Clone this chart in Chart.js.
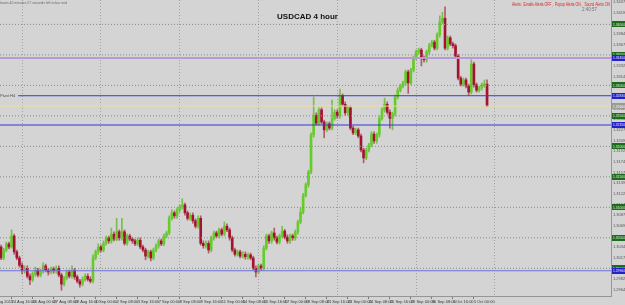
<!DOCTYPE html>
<html><head><meta charset="utf-8">
<script src="https://cdn.jsdelivr.net/npm/chart.js@4.4.0/dist/chart.umd.min.js"></script>
<style>html,body{margin:0;padding:0;background:#d4d4d4;overflow:hidden}canvas{display:block}</style>
</head><body>
<canvas id="c" width="625" height="305" style="width:625px;height:305px"></canvas>
<script>
const titleText = 'USDCAD 4 hour';
const alertText = 'Alerts:  Emails Alerts OFF ,  Popup Alerts ON ,  Sound Alerts ON';
const timerText = '2:40:57';
const barEndText = 'hours 40 minutes 57 seconds left to bar end';
const lineNote = 'Pivot H4';

const opens = [
1.3035,1.3017,1.3030,1.3040,1.3035,1.3053,1.3027,1.3017,1.3005,1.2996,
1.3000,1.2987,1.2981,1.2991,1.2997,1.2989,1.2996,1.3004,1.2997,1.2994,
1.2999,1.2996,1.3000,1.2989,1.2974,1.2984,1.2994,1.2987,1.2997,1.2986,
1.2979,1.2974,1.2982,1.2987,1.2982,1.2979,1.3017,1.3027,1.3035,1.3030,
1.3041,1.3050,1.3045,1.3056,1.3048,1.3060,1.3050,1.3060,1.3041,1.3053,
1.3048,1.3045,1.3040,1.3046,1.3035,1.3030,1.3020,1.3027,1.3017,1.3030,
1.3037,1.3045,1.3040,1.3053,1.3058,1.3082,1.3091,1.3086,1.3096,1.3101,
1.3104,1.3091,1.3082,1.3087,1.3078,1.3069,1.3082,1.3041,1.3037,1.3041,
1.3030,1.3050,1.3058,1.3053,1.3063,1.3056,1.3069,1.3063,1.3050,1.3030,
1.3023,1.3027,1.3020,1.3023,1.3019,1.3022,1.3017,1.3000,1.2994,1.3004,
1.3000,1.3033,1.3053,1.3045,1.3058,1.3050,1.3043,1.3053,1.3061,1.3051,
1.3045,1.3053,1.3050,1.3060,1.3076,1.3092,1.3120,1.3137,1.3158,1.3219,
1.3251,1.3238,1.3260,1.3240,1.3227,1.3237,1.3230,1.3246,1.3256,1.3250,
1.3283,1.3269,1.3255,1.3263,1.3230,1.3222,1.3227,1.3217,1.3194,1.3181,
1.3194,1.3202,1.3220,1.3209,1.3219,1.3246,1.3260,1.3269,1.3256,1.3246,
1.3253,1.3281,1.3292,1.3299,1.3304,1.3322,1.3304,1.3325,1.3345,1.3355,
1.3358,1.3345,1.3342,1.3355,1.3366,1.3371,1.3361,1.3383,1.3404,1.3410,
1.3361,1.3378,1.3368,1.3365,1.3348,1.3312,1.3302,1.3309,1.3299,1.3289,
1.3335,1.3301,1.3292,1.3296,1.3301,1.3302];

const highs = [
1.3038,1.3033,1.3043,1.3043,1.3063,1.3056,1.3030,1.3020,1.3009,1.3004,
1.3004,1.2991,1.2994,1.3002,1.3000,1.2999,1.3009,1.3007,1.3000,1.3002,
1.3002,1.3004,1.3004,1.2992,1.2987,1.2997,1.2997,1.3004,1.3000,1.2989,
1.2982,1.2986,1.2991,1.2991,1.2986,1.3022,1.3030,1.3040,1.3038,1.3045,
1.3053,1.3053,1.3066,1.3060,1.3082,1.3063,1.3082,1.3063,1.3056,1.3056,
1.3051,1.3048,1.3050,1.3050,1.3038,1.3033,1.3030,1.3030,1.3033,1.3040,
1.3048,1.3048,1.3056,1.3061,1.3086,1.3096,1.3094,1.3099,1.3104,1.3114,
1.3107,1.3094,1.3091,1.3091,1.3081,1.3086,1.3086,1.3045,1.3045,1.3045,
1.3053,1.3061,1.3061,1.3066,1.3066,1.3076,1.3073,1.3066,1.3053,1.3033,
1.3030,1.3030,1.3027,1.3027,1.3025,1.3025,1.3020,1.3004,1.3007,1.3007,
1.3037,1.3056,1.3056,1.3061,1.3066,1.3053,1.3056,1.3069,1.3064,1.3055,
1.3056,1.3056,1.3063,1.3079,1.3099,1.3123,1.3140,1.3161,1.3222,1.3281,
1.3255,1.3263,1.3263,1.3243,1.3240,1.3240,1.3276,1.3260,1.3260,1.3294,
1.3286,1.3273,1.3266,1.3266,1.3233,1.3230,1.3230,1.3220,1.3197,1.3197,
1.3205,1.3224,1.3224,1.3222,1.3250,1.3263,1.3279,1.3273,1.3260,1.3256,
1.3284,1.3296,1.3302,1.3307,1.3325,1.3325,1.3328,1.3348,1.3358,1.3361,
1.3361,1.3348,1.3358,1.3369,1.3374,1.3374,1.3386,1.3414,1.3420,1.3429,
1.3381,1.3381,1.3371,1.3368,1.3351,1.3315,1.3312,1.3312,1.3302,1.3342,
1.3338,1.3304,1.3299,1.3304,1.3309,1.3309];

const lows = [
1.3014,1.3014,1.3027,1.3032,1.3033,1.3023,1.3014,1.3002,1.2991,1.2992,
1.2984,1.2973,1.2978,1.2987,1.2986,1.2986,1.2992,1.2994,1.2989,1.2991,
1.2992,1.2992,1.2986,1.2964,1.2971,1.2981,1.2984,1.2984,1.2982,1.2976,
1.2969,1.2971,1.2979,1.2979,1.2976,1.2976,1.3014,1.3023,1.3027,1.3027,
1.3038,1.3041,1.3041,1.3045,1.3045,1.3046,1.3046,1.3038,1.3038,1.3045,
1.3041,1.3037,1.3037,1.3032,1.3027,1.3014,1.3017,1.3012,1.3014,1.3027,
1.3033,1.3037,1.3037,1.3050,1.3055,1.3079,1.3082,1.3082,1.3092,1.3097,
1.3087,1.3079,1.3079,1.3074,1.3066,1.3066,1.3038,1.3033,1.3033,1.3025,
1.3027,1.3046,1.3050,1.3050,1.3053,1.3053,1.3060,1.3046,1.3027,1.3020,
1.3020,1.3017,1.3017,1.3015,1.3015,1.3014,1.2997,1.2986,1.2991,1.2997,
1.2997,1.3030,1.3041,1.3041,1.3046,1.3040,1.3040,1.3050,1.3048,1.3041,
1.3041,1.3046,1.3046,1.3056,1.3073,1.3089,1.3117,1.3133,1.3155,1.3215,
1.3235,1.3235,1.3237,1.3214,1.3224,1.3227,1.3227,1.3243,1.3246,1.3246,
1.3266,1.3251,1.3251,1.3227,1.3219,1.3219,1.3214,1.3191,1.3173,1.3178,
1.3191,1.3199,1.3205,1.3205,1.3215,1.3243,1.3256,1.3253,1.3230,1.3227,
1.3250,1.3278,1.3289,1.3296,1.3301,1.3287,1.3301,1.3322,1.3342,1.3351,
1.3332,1.3338,1.3338,1.3351,1.3363,1.3358,1.3358,1.3379,1.3401,1.3358,
1.3358,1.3365,1.3361,1.3345,1.3309,1.3299,1.3299,1.3296,1.3284,1.3286,
1.3297,1.3289,1.3289,1.3292,1.3297,1.3265];

const closes = [
1.3017,1.3030,1.3040,1.3035,1.3053,1.3027,1.3017,1.3005,1.2996,1.3000,
1.2987,1.2981,1.2991,1.2997,1.2989,1.2996,1.3004,1.2997,1.2994,1.2999,
1.2996,1.3000,1.2989,1.2974,1.2984,1.2994,1.2987,1.2997,1.2986,1.2979,
1.2974,1.2982,1.2987,1.2982,1.2979,1.3017,1.3027,1.3035,1.3030,1.3041,
1.3050,1.3045,1.3056,1.3048,1.3060,1.3050,1.3060,1.3041,1.3053,1.3048,
1.3045,1.3040,1.3046,1.3035,1.3030,1.3020,1.3027,1.3017,1.3030,1.3037,
1.3045,1.3040,1.3053,1.3058,1.3082,1.3091,1.3086,1.3096,1.3101,1.3104,
1.3091,1.3082,1.3087,1.3078,1.3069,1.3082,1.3041,1.3037,1.3041,1.3030,
1.3050,1.3058,1.3053,1.3063,1.3056,1.3069,1.3063,1.3050,1.3030,1.3023,
1.3027,1.3020,1.3023,1.3019,1.3022,1.3017,1.3000,1.2994,1.3004,1.3000,
1.3033,1.3053,1.3045,1.3058,1.3050,1.3043,1.3053,1.3061,1.3051,1.3045,
1.3053,1.3050,1.3060,1.3076,1.3092,1.3120,1.3137,1.3158,1.3219,1.3251,
1.3238,1.3260,1.3240,1.3227,1.3237,1.3230,1.3246,1.3256,1.3250,1.3283,
1.3269,1.3255,1.3263,1.3230,1.3222,1.3227,1.3217,1.3194,1.3181,1.3194,
1.3202,1.3220,1.3209,1.3219,1.3246,1.3260,1.3269,1.3256,1.3246,1.3253,
1.3281,1.3292,1.3299,1.3304,1.3322,1.3304,1.3325,1.3345,1.3355,1.3358,
1.3345,1.3342,1.3355,1.3366,1.3371,1.3361,1.3383,1.3404,1.3410,1.3361,
1.3378,1.3368,1.3365,1.3348,1.3312,1.3302,1.3309,1.3299,1.3289,1.3335,
1.3301,1.3292,1.3296,1.3301,1.3302,1.3266];

const timeLabels = ['21 Aug 2015','24 Aug 16:00','26 Aug 00:00','27 Aug 08:00','28 Aug 16:00','1 Sep 00:00',
'2 Sep 08:00','3 Sep 16:00','7 Sep 00:00','8 Sep 08:00','9 Sep 16:00','11 Sep 00:00','14 Sep 08:00',
'15 Sep 16:00','17 Sep 00:00','18 Sep 08:00','21 Sep 16:00','23 Sep 00:00','24 Sep 08:00','25 Sep 16:00',
'29 Sep 00:00','30 Sep 08:00','1 Oct 16:00','5 Oct 00:00'];
const timeLabelBars = [-4,4,12,20,28,36,44,52,60,68,76,84,92,100,108,116,124,132,140,148,156,164,172,180];
const gridBars = [8,38,68,98,128,158,188];
const priceTicks = [1.34370,1.34195,1.34020,1.33845,1.33670,1.33495,1.33320,1.33145,1.32970,1.32795,
1.32620,1.32445,1.32270,1.32095,1.31920,1.31745,1.31570,1.31395,1.31220,1.31045,1.30870,1.30695,
1.30520,1.30345,1.30170,1.29995,1.29820,1.29645];
const levelLines = [1.3400,1.3350,1.3300,1.3250,1.3200,1.3150,1.3100,1.3050,1.3000];
const blueLines = [1.3283,1.3235];
const lowBlueLine = 1.2996;
const purpleLine = 1.3345;
const bidPrice = 1.3266;

const xMin = -0.4, xMax = 232.18, yMin = 1.29546, yMax = 1.3440;
const tinyFont = "'Liberation Sans Narrow','Liberation Sans',Arial,sans-serif";

const bull = '#66cc2a', bear = '#a51230';
const bodyData = opens.map((o, i) => ({x: i, y: [o, closes[i]]}));
const wickData = opens.map((o, i) => ({x: i, y: [lows[i], highs[i]]}));
const bodyColors = opens.map((o, i) => closes[i] >= o ? bull : bear);
const wickColors = opens.map((o, i) => closes[i] >= o ? 'rgba(95,185,45,0.8)' : 'rgba(165,25,50,0.65)');

function hLine(v, color, dash, width, fromX) {
  return {type: 'line', data: [{x: fromX === undefined ? xMin : fromX, y: v}, {x: xMax, y: v}],
    borderColor: color, borderWidth: width, borderDash: dash, pointRadius: 0, order: 0, fill: false};
}
const lineSets = [];
levelLines.forEach(v => lineSets.push(hLine(v, '#7f907f', [1, 2], 1)));
lineSets.push(hLine(purpleLine, '#b89ad0', [], 2));
lineSets.push(hLine(purpleLine, '#4a44c0', [4, 3], 2));
lineSets.push(hLine(blueLines[0], '#3a3ad0', [], 1, 6.5));
lineSets.push(hLine(blueLines[1], '#3434d8', [], 1));
lineSets.push(hLine(lowBlueLine, '#7070dc', [], 1));
lineSets.push(hLine(bidPrice, '#e6de98', [], 1));

const noPad = s => { s.paddingLeft = 0; s.paddingRight = 0; s.paddingTop = 0; s.paddingBottom = 0; };

const overlay = {
  id: 'overlay',
  beforeDraw(chart) {
    const c = chart.ctx; c.save(); c.fillStyle = '#d4d4d4'; c.fillRect(0, 0, chart.width, chart.height); c.restore();
  },
  afterDraw(chart) {
    const ctx = chart.ctx, ys = chart.scales.y, area = chart.chartArea;
    ctx.save();
    const box = (v, bg, fg) => {
      const y = ys.getPixelForValue(v);
      ctx.fillStyle = bg; ctx.fillRect(area.right + 1, Math.round(y) - 3, 14, 6);
      ctx.fillStyle = fg; ctx.font = '4px ' + tinyFont; ctx.textBaseline = 'middle'; ctx.textAlign = 'left';
      ctx.fillText(v.toFixed(5), area.right + 2, y + 0.3, 12);
    };
    levelLines.forEach(v => box(v, '#1e6a1e', '#d6f0d0'));
    blueLines.concat([purpleLine, lowBlueLine]).forEach(v => box(v, '#2222c8', '#e8e8ff'));
    box(bidPrice, '#9a9a9a', '#f6f6f6');
    ctx.textBaseline = 'alphabetic';
    ctx.textAlign = 'center'; ctx.fillStyle = '#111'; ctx.font = 'bold 8px "Liberation Sans",Arial,sans-serif';
    ctx.fillText(titleText, 307.5, 18.7);
    ctx.textAlign = 'left';
    ctx.font = '4.5px ' + tinyFont; ctx.fillStyle = '#d42828';
    ctx.fillText(alertText, 512, 6, 98);
    ctx.fillStyle = '#707070'; ctx.fillText(timerText, 582, 11, 16);
    ctx.font = '4px ' + tinyFont; ctx.fillStyle = '#6a6a6a';
    ctx.fillText(barEndText, 0, 3.5, 67);
    ctx.fillStyle = '#4a4a4a'; ctx.fillText(lineNote, 0, ys.getPixelForValue(blueLines[0]) + 1, 17);
    ctx.restore();
  }
};

new Chart(document.getElementById('c'), {
  type: 'bar',
  data: {datasets: [
    ...lineSets,
    {type: 'bar', data: bodyData, backgroundColor: bodyColors, barThickness: 2, grouped: false, borderWidth: 0, order: 2},
    {type: 'bar', data: wickData, backgroundColor: wickColors, barThickness: 1, grouped: false, borderWidth: 0, order: 3}
  ]},
  options: {
    responsive: false, animation: false, devicePixelRatio: 1,
    layout: {padding: 0},
    plugins: {legend: {display: false}, tooltip: {enabled: false}, title: {display: false}},
    scales: {
      xg: {type: 'linear', position: 'bottom', min: xMin, max: xMax, offset: false,
        afterBuildTicks: s => { s.ticks = gridBars.map(v => ({value: v})); },
        afterFit: s => { s.height = 0; noPad(s); },
        ticks: {display: false},
        grid: {drawOnChartArea: true, drawTicks: false, color: '#a2a2a2', lineWidth: 1, offset: false},
        border: {display: false, dash: [1, 2]}},
      x: {type: 'linear', position: 'bottom', min: xMin, max: xMax, offset: false,
        afterBuildTicks: s => { s.ticks = timeLabelBars.map(v => ({value: v})); },
        afterFit: s => { s.height = 9; noPad(s); },
        ticks: {autoSkip: false, maxRotation: 0, minRotation: 0, align: 'start', padding: 0, color: '#383838',
          font: {size: 4, family: tinyFont},
          callback: v => { const k = timeLabelBars.indexOf(v); return k >= 0 ? timeLabels[k] : ''; }},
        grid: {drawOnChartArea: false, drawTicks: true, tickLength: 3, color: '#7a7a7a', offset: false},
        border: {display: true, color: '#959595'}},
      y: {type: 'linear', position: 'right', min: yMin, max: yMax,
        afterBuildTicks: s => { s.ticks = priceTicks.map(v => ({value: v})); },
        afterFit: s => { s.width = 14; noPad(s); },
        ticks: {padding: 2, color: '#555', font: {size: 4, family: tinyFont}, callback: v => v.toFixed(5)},
        grid: {drawOnChartArea: false, drawTicks: false},
        border: {display: true, color: '#959595'}}
    }
  },
  plugins: [overlay]
});
</script>
</body></html>
